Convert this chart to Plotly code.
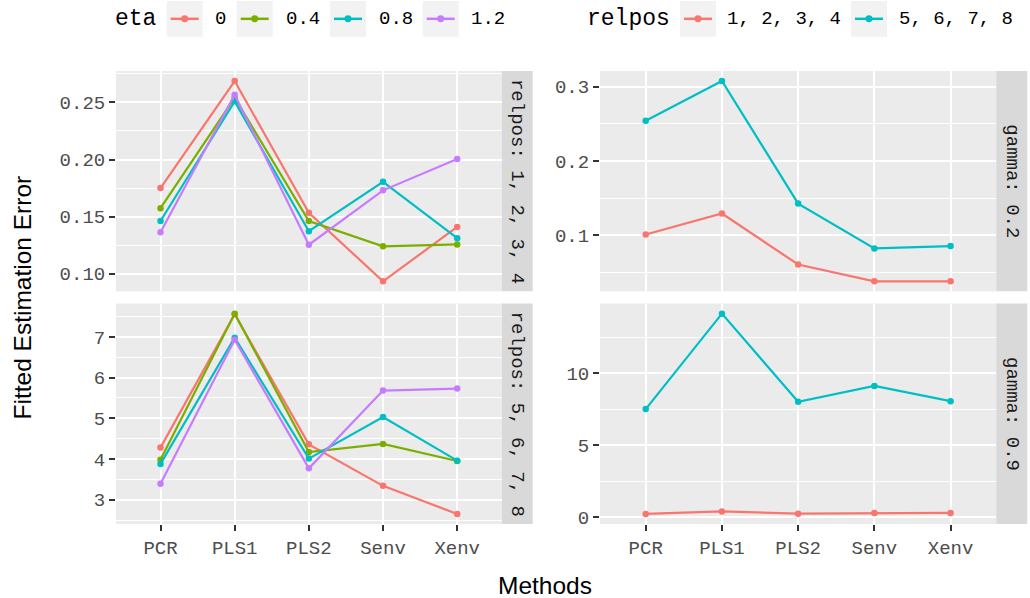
import plotly.graph_objects as go

W, H = 1030, 598

# ---------------- data ----------------
methods = ["PCR", "PLS1", "PLS2", "Senv", "Xenv"]
eta_levels = ["0", "0.4", "0.8", "1.2"]
relpos_levels = ["1, 2, 3, 4", "5, 6, 7, 8"]
eta_colors = ["#F8766D", "#7CAE00", "#00BFC4", "#C77CFF"]
relpos_colors = ["#F8766D", "#00BFC4"]

# Left column (by eta), top: relpos 1,2,3,4
eta0_rel1234 = [0.175, 0.2687, 0.1534, 0.0934, 0.141]
eta04_rel1234 = [0.1574, 0.254, 0.1462, 0.124, 0.1257]
eta08_rel1234 = [0.1462, 0.2509, 0.1372, 0.1805, 0.1312]
eta12_rel1234 = [0.1363, 0.2566, 0.1254, 0.173, 0.2004]
# Left column (by eta), bottom: relpos 5,6,7,8
eta0_rel5678 = [4.28, 7.556, 4.36, 3.34, 2.65]
eta04_rel5678 = [3.98, 7.57, 4.17, 4.37, 3.95]
eta08_rel5678 = [3.88, 6.98, 4.01, 5.03, 3.96]
eta12_rel5678 = [3.39, 6.93, 3.77, 5.68, 5.73]
# Right column (by relpos), top: gamma 0.2
rel1234_gamma02 = [0.101, 0.1292, 0.0606, 0.038, 0.038]
rel5678_gamma02 = [0.254, 0.3074, 0.1425, 0.0823, 0.0854]
# Right column (by relpos), bottom: gamma 0.9
rel1234_gamma09 = [0.21, 0.39, 0.23, 0.28, 0.28]
rel5678_gamma09 = [7.52, 14.17, 8.03, 9.13, 8.07]

left_top = [eta0_rel1234, eta04_rel1234, eta08_rel1234, eta12_rel1234]
left_bot = [eta0_rel5678, eta04_rel5678, eta08_rel5678, eta12_rel5678]
right_top = [rel1234_gamma02, rel5678_gamma02]
right_bot = [rel1234_gamma09, rel5678_gamma09]

strip_left_top = "relpos: 1, 2, 3, 4"
strip_left_bot = "relpos: 5, 6, 7, 8"
strip_right_top = "gamma: 0.2"
strip_right_bot = "gamma: 0.9"

yticks_lt = [0.10, 0.15, 0.20, 0.25]
yminor_lt = [0.125, 0.175, 0.225, 0.275]
yticks_lb = [3, 4, 5, 6, 7]
yminor_lb = [2.5, 3.5, 4.5, 5.5, 6.5, 7.5]
yticks_rt = [0.1, 0.2, 0.3]
yminor_rt = [0.05, 0.15, 0.25]
yticks_rb = [0, 5, 10]
yminor_rb = [2.5, 7.5, 12.5]

# ---------------- style ----------------
MONO = "Liberation Mono, Courier New, monospace"
SANS = "Liberation Sans, Arial, sans-serif"
TICK_SIZE = 19
TITLE_SIZE = 24.5
LEG_TITLE_SIZE = 23
PANEL_BG = "#EBEBEB"
STRIP_BG = "#D9D9D9"

def px(x):
    return x / W

def py(y):
    return 1 - y / H

# panel geometry (pixels)
L_X0, L_X1 = 116, 501.7
R_X0, R_X1 = 600, 996.3
T_Y0, T_Y1 = 71.7, 294.3
B_Y0, B_Y1 = 306.7, 529.3
STRIP_W = 31

fig = go.Figure()

def add_series(values_list, colors, xa, ya):
    for vals, col in zip(values_list, colors):
        fig.add_trace(go.Scatter(
            x=methods, y=vals, mode="lines+markers",
            line=dict(color=col, width=2.2),
            marker=dict(color=col, size=6.5),
            xaxis=xa, yaxis=ya, showlegend=False, hoverinfo="x+y"))

add_series(left_top, eta_colors, "x", "y")
add_series(right_top, relpos_colors, "x2", "y2")
add_series(left_bot, eta_colors, "x3", "y3")
add_series(right_bot, relpos_colors, "x4", "y4")

def rng(lists):
    lo = min(min(v) for v in lists)
    hi = max(max(v) for v in lists)
    d = (hi - lo) * 0.05
    return [lo - d, hi + d]

xbase = dict(type="category", categoryorder="array", categoryarray=methods,
             range=[-0.6, 4.6], showgrid=True, gridcolor="white", gridwidth=2,
             zeroline=False, showline=False,
             tickfont=dict(family=MONO, size=TICK_SIZE, color="#4D4D4D"))

def xaxis(domain, anchor, show):
    d = dict(xbase)
    d.update(domain=domain, anchor=anchor)
    if show:
        d.update(ticks="outside", ticklen=6, tickwidth=2, tickcolor="#333333",
                 showticklabels=True)
    else:
        d.update(ticks="", showticklabels=False)
    return d

def yaxis(domain, anchor, r, tv, mv, fmt):
    return dict(domain=domain, anchor=anchor, range=r, tickvals=tv,
                tickformat=fmt, showgrid=True, gridcolor="white", gridwidth=2,
                zeroline=False, showline=False, ticks="outside", ticklen=6,
                tickwidth=2, tickcolor="#333333",
                tickfont=dict(family=MONO, size=TICK_SIZE, color="#4D4D4D"),
                minor=dict(tickvals=mv, showgrid=True, gridcolor="white",
                           gridwidth=1, ticks=""))

dx_l = [px(L_X0), px(L_X1)]
dx_r = [px(R_X0), px(R_X1)]
dy_t = [py(T_Y1), py(T_Y0)]
dy_b = [py(B_Y1), py(B_Y0)]

fig.update_layout(
    width=W, height=H, margin=dict(l=0, r=0, t=0, b=0),
    paper_bgcolor="white", plot_bgcolor=PANEL_BG,
    showlegend=False,
    xaxis=xaxis(dx_l, "y", False),
    xaxis2=xaxis(dx_r, "y2", False),
    xaxis3=xaxis(dx_l, "y3", True),
    xaxis4=xaxis(dx_r, "y4", True),
    yaxis=yaxis(dy_t, "x", rng(left_top), yticks_lt, yminor_lt, ".2f"),
    yaxis2=yaxis(dy_t, "x2", rng(right_top), yticks_rt, yminor_rt, ".1f"),
    yaxis3=yaxis(dy_b, "x3", rng(left_bot), yticks_lb, yminor_lb, "d"),
    yaxis4=yaxis(dy_b, "x4", rng(right_bot), yticks_rb, yminor_rb, "d"),
)

shapes = []
annotations = []

# strips
for x0, (y0, y1), label in [(L_X1, (T_Y0, T_Y1), strip_left_top),
                            (L_X1, (B_Y0, B_Y1), strip_left_bot),
                            (R_X1, (T_Y0, T_Y1), strip_right_top),
                            (R_X1, (B_Y0, B_Y1), strip_right_bot)]:
    shapes.append(dict(type="rect", xref="paper", yref="paper",
                       x0=px(x0), x1=px(x0 + STRIP_W), y0=py(y1), y1=py(y0),
                       fillcolor=STRIP_BG, line=dict(width=0), layer="below"))
    annotations.append(dict(xref="paper", yref="paper",
                            x=px(x0 + STRIP_W / 2), y=py((y0 + y1) / 2),
                            text=label, showarrow=False, textangle=90,
                            font=dict(family=MONO, size=TICK_SIZE, color="#1A1A1A"),
                            xanchor="center", yanchor="middle"))

# axis titles
annotations.append(dict(xref="paper", yref="paper", x=px(22), y=py(300.5),
                        text="Fitted Estimation Error", showarrow=False,
                        textangle=-90, xanchor="center", yanchor="middle",
                        font=dict(family=SANS, size=TITLE_SIZE, color="black")))
annotations.append(dict(xref="paper", yref="paper", x=px(544.5), y=py(591),
                        text="Methods", showarrow=False,
                        xanchor="center", yanchor="middle",
                        font=dict(family=SANS, size=TITLE_SIZE, color="black")))

# manual legends
LEG_Y = 19
BOX = 36

def legend(title, title_x, labels, colors, box_xs, label_xs):
    annotations.append(dict(xref="paper", yref="paper", x=px(title_x - 2), y=py(LEG_Y),
                            text=title, showarrow=False, xanchor="left",
                            yanchor="middle",
                            font=dict(family=MONO, size=LEG_TITLE_SIZE, color="black")))
    for lab, col, bx, lx in zip(labels, colors, box_xs, label_xs):
        shapes.append(dict(type="rect", xref="paper", yref="paper",
                           x0=px(bx), x1=px(bx + BOX),
                           y0=py(LEG_Y + BOX / 2), y1=py(LEG_Y - BOX / 2),
                           fillcolor="#F2F2F2", line=dict(width=0)))
        shapes.append(dict(type="line", xref="paper", yref="paper",
                           x0=px(bx + 4), x1=px(bx + BOX - 4),
                           y0=py(LEG_Y), y1=py(LEG_Y),
                           line=dict(color=col, width=2.5)))
        cx = bx + BOX / 2
        shapes.append(dict(type="circle", xref="paper", yref="paper",
                           x0=px(cx - 3.5), x1=px(cx + 3.5),
                           y0=py(LEG_Y + 3.5), y1=py(LEG_Y - 3.5),
                           fillcolor=col, line=dict(width=0)))
        annotations.append(dict(xref="paper", yref="paper", x=px(lx - 2), y=py(LEG_Y),
                                text=lab, showarrow=False, xanchor="left",
                                yanchor="middle",
                                font=dict(family=MONO, size=TICK_SIZE, color="black")))

legend("eta", 115, eta_levels, eta_colors,
       [166.7, 236.7, 330, 422.7], [215, 285.7, 378.7, 471])
legend("relpos", 587.3, relpos_levels, relpos_colors,
       [680, 851], [726.7, 899.3])

fig.update_layout(shapes=shapes, annotations=annotations)

fig.write_html("out.html")
